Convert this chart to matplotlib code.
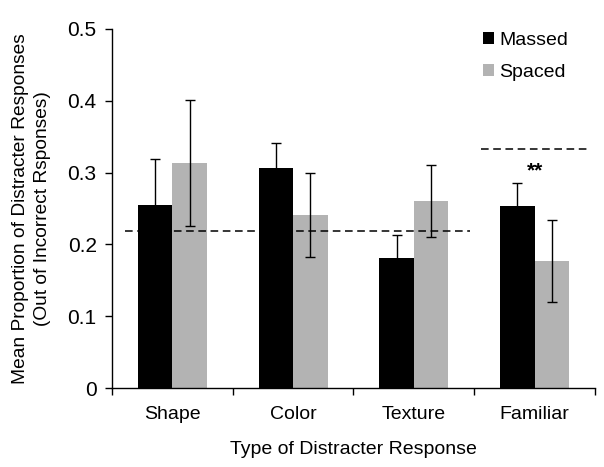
import matplotlib
import matplotlib.pyplot as plt
import numpy as np

matplotlib.use("Agg")
plt.rcParams["font.family"] = ["Liberation Sans", "DejaVu Sans"]

# Data
categories = ["Shape", "Color", "Texture", "Familiar"]
massed = [0.255, 0.306, 0.181, 0.253]
massed_err = [0.064, 0.035, 0.032, 0.033]
spaced = [0.313, 0.241, 0.260, 0.177]
spaced_err = [0.088, 0.059, 0.050, 0.057]
chance_levels = [0.218, 0.333]

fig = plt.figure(figsize=(6.04, 4.67), dpi=100)
ax = fig.add_axes([0.1854, 0.169, 0.7996, 0.769])

x = np.arange(len(categories))
width = 0.286
err_kw = dict(ecolor="black", elinewidth=1, capsize=3.5, capthick=1)
ax.bar(x - width / 2, massed, width, yerr=massed_err, color="black",
       label="Massed", error_kw=err_kw)
ax.bar(x + width / 2, spaced, width, yerr=spaced_err, color="#b3b3b3",
       label="Spaced", error_kw=err_kw)

# reference lines
ax.hlines(chance_levels[0], -0.392, 2.466, colors="black", linestyles=(0, (5, 3)), lw=1.1)
ax.hlines(chance_levels[1], 2.557, 3.444, colors="black", linestyles=(0, (5, 3)), lw=1.1)
ax.text(3.0, 0.303, "**", ha="center", va="center", fontsize=15, fontweight="bold")

ax.set_xlim(-0.5, len(categories) - 0.5)
ax.set_ylim(0, 0.5)
ax.set_yticks([0, 0.1, 0.2, 0.3, 0.4, 0.5])
ax.set_yticklabels(["0", "0.1", "0.2", "0.3", "0.4", "0.5"])
ax.set_xticks(np.arange(len(categories) + 1) - 0.5)
ax.set_xticklabels([])
ax.set_xticks(x, minor=True)
ax.set_xticklabels(categories, minor=True)
ax.tick_params(axis="x", which="minor", length=0, pad=13, labelsize=14)
ax.tick_params(axis="x", which="major", length=5, width=1)
ax.tick_params(axis="y", length=5, width=1, labelsize=15, pad=6)

for side in ["top", "right"]:
    ax.spines[side].set_visible(False)
ax.spines["left"].set_linewidth(1)
ax.spines["bottom"].set_linewidth(1)

ax.set_xlabel("Type of Distracter Response", fontsize=14, labelpad=13)
ax.set_ylabel("Mean Proportion of Distracter Responses\n(Out of Incorrect Rsponses)",
              fontsize=13.8, labelpad=12, linespacing=1.35)

ax.legend(loc="upper left", bbox_to_anchor=(483 / 604, 1 - 32 / 467),
          bbox_transform=fig.transFigure, frameon=False, borderpad=0,
          borderaxespad=0, fontsize=14, handlelength=0.55, handleheight=0.55,
          handletextpad=0.3, labelspacing=0.75)

fig.savefig("out.png", dpi=100)
plt.close(fig)
